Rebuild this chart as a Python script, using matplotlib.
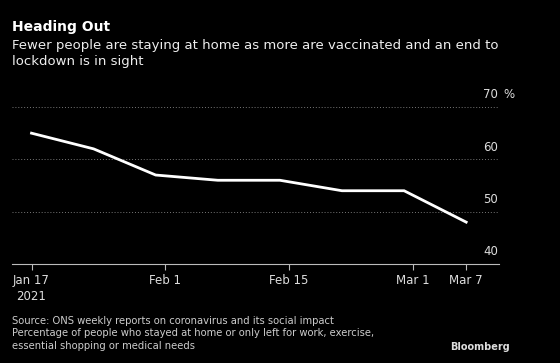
import matplotlib
matplotlib.use("Agg")
import matplotlib.pyplot as plt
import matplotlib.dates as mdates
import matplotlib.transforms as mtransforms
import numpy as np
from datetime import datetime, timedelta

dates = ["2021-01-17", "2021-01-24", "2021-01-31", "2021-02-07", "2021-02-14",
         "2021-02-21", "2021-02-28", "2021-03-07"]
values = [65, 62, 57, 56, 56, 54, 54, 48]
xtick_dates = ["2021-01-17", "2021-02-01", "2021-02-15", "2021-03-01", "2021-03-07"]
xtick_labels = ["Jan 17\n2021", "Feb 1", "Feb 15", "Mar 1", "Mar 7"]
yticks = [40, 50, 60, 70]

title = "Heading Out"
subtitle = "Fewer people are staying at home as more are vaccinated and an end to\nlockdown is in sight"
footer = ("Source: ONS weekly reports on coronavirus and its social impact\n"
          "Percentage of people who stayed at home or only left for work, exercise,\n"
          "essential shopping or medical needs")

W, H = 560, 363
fig = plt.figure(figsize=(W / 100, H / 100), dpi=100, facecolor="black")
plt.rcParams['font.family'] = ['DejaVu Sans']

left, right, top, bottom = 12, 499, 107, 264
ax = fig.add_axes([left / W, 1 - bottom / H, (right - left) / W, (bottom - top) / H])
ax.set_facecolor("black")

x = [datetime.strptime(d, "%Y-%m-%d") for d in dates]
xt = [datetime.strptime(d, "%Y-%m-%d") for d in xtick_dates]

ax.plot(x, values, color="white", lw=2.0, solid_joinstyle="miter", zorder=3)

ax.set_ylim(40, 70)
ax.set_xlim(x[0] - timedelta(days=2.2), x[0] + timedelta(days=52.7))

for s in ["top", "right", "left"]:
    ax.spines[s].set_visible(False)
ax.spines["bottom"].set_color("#bbbbbb")
ax.spines["bottom"].set_linewidth(0.8)

ax.set_yticks(yticks)
ax.tick_params(axis="y", length=0, labelleft=False)
ax.yaxis.grid(True, color="#777777", linestyle=(0, (1, 2)), linewidth=0.7)
ax.set_axisbelow(True)

ax.set_xticks(xt)
ax.set_xticklabels(xtick_labels, color="#dddddd", fontsize=8.5, linespacing=1.3)
ax.tick_params(axis="x", length=4, color="#bbbbbb", width=0.8, pad=3.5)
for lbl in ax.get_xticklabels():
    lbl.set_verticalalignment("top")

trans = mtransforms.blended_transform_factory(ax.transAxes, ax.transData)
off = mtransforms.ScaledTranslation(0, 4 / 72, fig.dpi_scale_trans)
for v in yticks:
    ax.text(0.998, v, str(v), transform=trans + off, ha="right", va="bottom",
            color="#dddddd", fontsize=8.5)
ax.text(1.01, yticks[-1], "%", transform=trans + off, ha="left", va="bottom",
        color="#dddddd", fontsize=8.5)

fig.text(12 / W, 1 - 27 / H, title, color="white", fontsize=10.0, fontweight="bold",
         va="center", ha="left")
fig.text(12 / W, 1 - 39.5 / H, subtitle, color="#eeeeee", fontsize=9.55, va="top", ha="left",
         linespacing=1.3)
fig.text(12 / W, 1 - 316 / H, footer, color="#cccccc", fontsize=7.2, va="top", ha="left",
         linespacing=1.3)
fig.text(510 / W, 1 - 347 / H, "Bloomberg", color="#dddddd", fontsize=7.0,
         fontweight="bold", va="center", ha="right")

fig.savefig("out.png", dpi=100, facecolor="black")
